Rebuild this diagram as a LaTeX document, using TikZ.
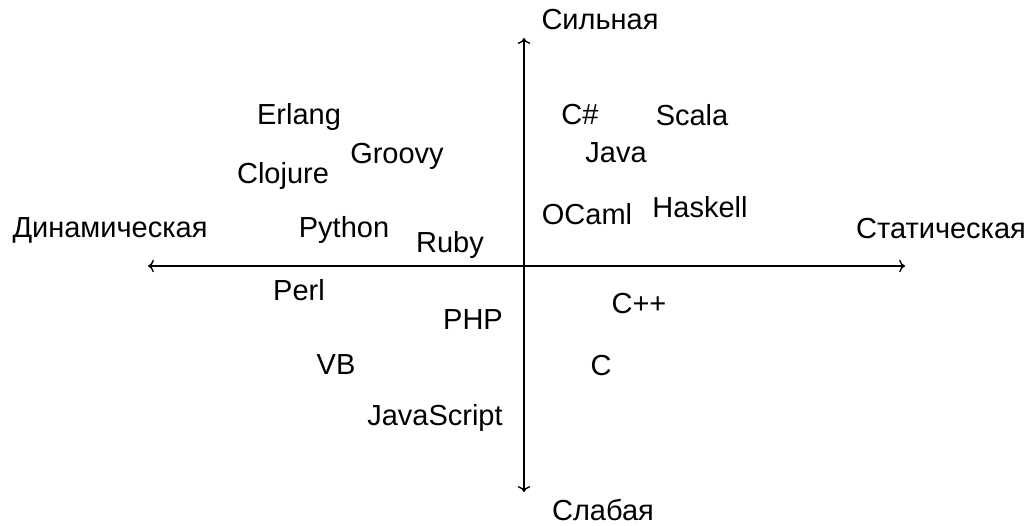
\documentclass[tikz,border=0pt]{standalone}
\usepackage{fontspec}
\setmainfont{Liberation Sans}
\usepackage{tikz}
\usetikzlibrary{arrows.meta}
\tikzstyle{every node}=[font=\fontsize{16.5}{19}\selectfont]
\tikzstyle{lang}=[inner sep=0pt]

\begin{document}
\begin{tikzpicture}[>=To,x=0.02cm,y=-0.02cm]
            \useasboundingbox (0,0) rectangle (1030,525);
            \coordinate (left) at (148,266);
            \coordinate (right) at (905,266);
            \coordinate (top) at (524,38);
            \coordinate (bottom) at (524,492);
            \draw[<->, thick] (left) -- (right);
            \draw[<->, thick] (bottom) -- (top);
            \node[lang] (strong) at (600,20) {Сильная};
            \node[lang] (weak) at (603,510) {Слабая};
            \node[lang] (dynamic) at (110,230) {Динамическая};
            \node[lang] (static) at (941,229) {Статическая};
            % dynamic, strong
            \node[lang] (erlang) at (299,117) {Erlang};
            \node[lang] (groovy) at (397,156) {Groovy};
            \node[lang] (clojure) at (283,176) {Clojure};
            \node[lang] (python) at (344,230) {Python};
            \node[lang] (ruby) at (450,245) {Ruby};
            % dynamic, weak
            \node[lang] (perl) at (299,290) {Perl};
            \node[lang] (php) at (473,320) {PHP};
            \node[lang] (vb) at (336,365) {VB};
            \node[lang] (js) at (435,418) {JavaScript};
            % static, strong
            \node[lang] (csharp) at (580,115) {C\#};
            \node[lang] (scala) at (692,115) {Scala};
            \node[lang] (java) at (616,153) {Java};
            \node[lang] (ocaml) at (587,214) {OCaml};
            \node[lang] (haskell) at (700,207) {Haskell};
            % static, weak
            \node[lang] (cpp) at (639,304) {C++};
            \node[lang] (c) at (601,366) {C};
        \end{tikzpicture}
\end{document}
